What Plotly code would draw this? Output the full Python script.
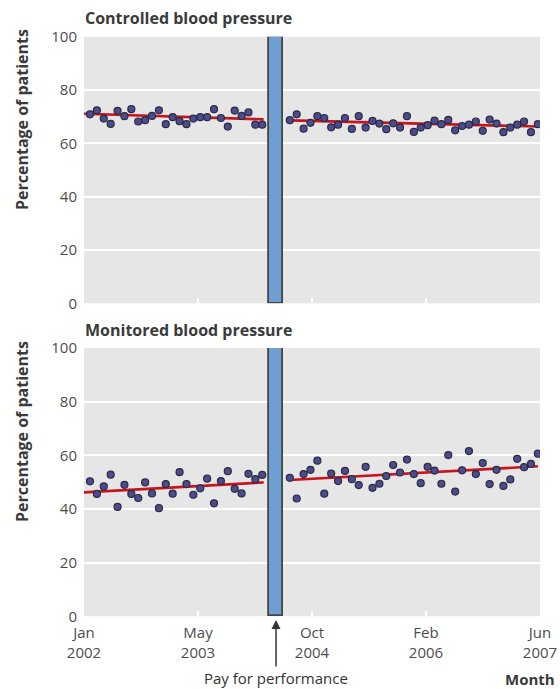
import numpy as np
import plotly.graph_objects as go

# ---------------- data ----------------
months_pre = list(range(0, 26))
months_post = list(range(29, 66))

controlled_pre = [70.9, 72.4, 69.3, 67.3, 72.2, 70.2, 72.8, 68.2, 68.7, 70.3, 72.4, 67.2, 69.8,
                  68.3, 67.2, 69.3, 69.8, 69.8, 72.8, 69.5, 66.3, 72.3, 70.3, 71.6, 67.0, 67.0]
controlled_post = [68.7, 70.9, 65.5, 67.7, 70.2, 69.5, 66.0, 67.0, 69.5, 65.4,
                   70.2, 65.9, 68.4, 67.4, 65.3, 67.5, 65.9, 70.2, 64.3, 65.9,
                   66.8, 68.5, 67.2, 68.8, 64.9, 66.5, 67.0, 68.2, 64.7, 68.9,
                   67.4, 64.2, 65.9, 67.0, 68.2, 64.2, 67.2]

monitored_pre = [50.3, 45.6, 48.4, 52.8, 40.8, 49.0, 45.6, 44.1, 49.9, 45.8, 40.3, 49.3, 45.7,
                 53.7, 49.3, 45.3, 47.7, 51.3, 42.1, 50.4, 54.1, 47.5, 45.8, 53.1, 51.1, 52.7]
monitored_post = [51.6, 43.9, 53.0, 54.6, 58.0, 45.7, 53.2, 50.4, 54.2, 51.1,
                  48.9, 55.7, 47.9, 49.4, 52.3, 56.4, 53.6, 58.4, 53.0, 49.6,
                  55.7, 54.3, 49.4, 60.1, 46.5, 54.4, 61.6, 53.0, 57.1, 49.3,
                  54.6, 48.6, 51.0, 58.7, 55.6, 56.8, 60.6]

# fitted trend lines (end points)
trend_pre_months = [-0.9, 25.2]
trend_post_months = [29, 65]
controlled_trend_pre = [71.1, 69.0]
controlled_trend_post = [68.6, 66.3]
monitored_trend_pre = [46.2, 49.9]
monitored_trend_post = [50.8, 55.9]

# intervention (pay for performance) period
intervention_month = [27]
intervention_height = [100]
intervention_width = [2]

x_range = [-0.87, 65.31]
tick_labels = ["Jan<br>2002", "May<br>2003", "Oct<br>2004", "Feb<br>2006", "Jun<br>2007"]
y_ticks = [0, 20, 40, 60, 80, 100]

# ---------------- styling ----------------
W, H = 560, 689
FONT = "Open Sans"
TICK_COLOR = "#4d4d4d"
TITLE_COLOR = "#3a3a3a"
MARKER = dict(size=7, color="#4b4b8f", line=dict(color="#2b2b3f", width=1.2))
TREND = dict(color="#c8141e", width=2.6)
BAR_FILL = "#6f9fd2"
BAR_LINE = "#454545"

fig = go.Figure()

panels = [
    ("x", "y", controlled_pre, controlled_post, controlled_trend_pre, controlled_trend_post),
    ("x2", "y2", monitored_pre, monitored_post, monitored_trend_pre, monitored_trend_post),
]
for xa, ya, pre, post, tpre, tpost in panels:
    fig.add_trace(go.Bar(x=intervention_month, y=intervention_height, width=intervention_width,
                         base=0, marker=dict(color=BAR_FILL, line=dict(color=BAR_LINE, width=1.8)),
                         xaxis=xa, yaxis=ya, showlegend=False, hoverinfo="skip"))
    fig.add_trace(go.Scatter(x=trend_pre_months, y=tpre, mode="lines", line=TREND,
                             xaxis=xa, yaxis=ya, showlegend=False))
    fig.add_trace(go.Scatter(x=trend_post_months, y=tpost, mode="lines", line=TREND,
                             xaxis=xa, yaxis=ya, showlegend=False))
    fig.add_trace(go.Scatter(x=months_pre, y=pre, mode="markers", marker=MARKER,
                             xaxis=xa, yaxis=ya, showlegend=False))
    fig.add_trace(go.Scatter(x=months_post, y=post, mode="markers", marker=MARKER,
                             xaxis=xa, yaxis=ya, showlegend=False))

x_dom = [84 / W, 540 / W]
top_dom = [1 - 303.3 / H, 1 - 36.7 / H]
bot_dom = [1 - 616.3 / H, 1 - 348 / H]
tickvals = list(np.linspace(x_range[0], x_range[1], 5))

xcommon = dict(range=x_range, domain=x_dom, showgrid=False, zeroline=False, showline=False,
               ticks="inside", tickcolor="white", ticklen=5, tickwidth=2, tickvals=tickvals,
               automargin=False, fixedrange=True)
ycommon = dict(range=[0, 100], showgrid=True, gridcolor="white", gridwidth=2, zeroline=False,
               showline=False, tickvals=y_ticks, ticks="", ticklabelstandoff=6,
               tickfont=dict(family=FONT, size=15, color=TICK_COLOR), automargin=False,
               fixedrange=True)

fig.update_layout(
    width=W, height=H,
    margin=dict(l=0, r=0, t=0, b=0),
    paper_bgcolor="white",
    plot_bgcolor="#e6e6e6",
    bargap=0,
    xaxis=dict(**xcommon, anchor="y", showticklabels=False),
    yaxis=dict(**ycommon, domain=top_dom, anchor="x"),
    xaxis2=dict(**xcommon, anchor="y2", ticktext=tick_labels, showticklabels=True,
                ticklabelstandoff=6,
                tickfont=dict(family=FONT, size=15, color=TICK_COLOR)),
    yaxis2=dict(**ycommon, domain=bot_dom, anchor="x2"),
)

ann = []
ann.append(dict(text="<b>Controlled blood pressure</b>", x=83 / W, y=1 - 18 / H,
                xref="paper", yref="paper", xanchor="left", yanchor="middle", showarrow=False,
                font=dict(family=FONT, size=16, color=TITLE_COLOR)))
ann.append(dict(text="<b>Monitored blood pressure</b>", x=83 / W, y=1 - 330 / H,
                xref="paper", yref="paper", xanchor="left", yanchor="middle", showarrow=False,
                font=dict(family=FONT, size=16, color=TITLE_COLOR)))
for yc in (120, 432):
    ann.append(dict(text="<b>Percentage of patients</b>", x=22 / W, y=1 - yc / H,
                    xref="paper", yref="paper", xanchor="center", yanchor="middle",
                    textangle=-90, showarrow=False,
                    font=dict(family=FONT, size=16, color=TITLE_COLOR)))
ann.append(dict(text="<b>Month</b>", x=557 / W, y=1 - 679 / H, xref="paper", yref="paper",
                xanchor="right", yanchor="middle", showarrow=False,
                font=dict(family=FONT, size=15, color=TITLE_COLOR)))
ann.append(dict(text="Pay for performance", x=intervention_month[0], xref="x2",
                y=1 - 620 / H, yref="paper", showarrow=True, ax=0, ay=58,
                arrowhead=2, arrowsize=1.2, arrowwidth=1.5, arrowcolor="#333333",
                font=dict(family=FONT, size=15, color="#333333")))
fig.update_layout(annotations=ann)

fig.write_html("out.html", config={"displayModeBar": False},
               post_script="document.body.style.margin='0';document.body.style.overflow='hidden';")
